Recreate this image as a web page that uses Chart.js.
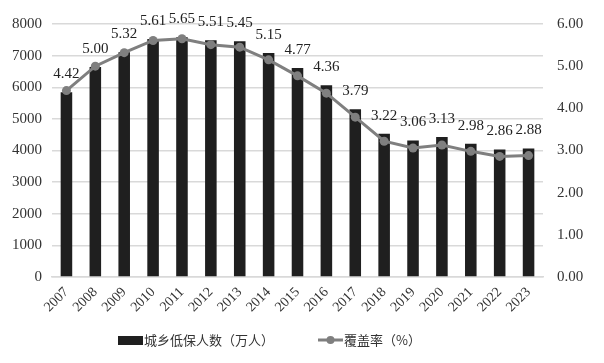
<!DOCTYPE html>
<html><head><meta charset="utf-8">
<script src="https://cdn.jsdelivr.net/npm/chart.js@4/dist/chart.umd.min.js"></script>
<style>html,body{margin:0;padding:0;background:#fff}#wrap{width:604px;height:363px}</style>
</head><body><div id="wrap"><canvas id="c" width="604" height="363"></canvas></div>
<script>
const years = ['2007','2008','2009','2010','2011','2012','2013','2014','2015','2016','2017','2018','2019','2020','2021','2022','2023'];
const recipients = [5838,6641,7106,7525,7583,7489,7452,7084,6605,6066,5306,4526,4316,4426,4212,4032,4063];
const coverage = [4.42,5.00,5.32,5.61,5.65,5.51,5.45,5.15,4.77,4.36,3.79,3.22,3.06,3.13,2.98,2.86,2.88];
const leftTicks = [0,1000,2000,3000,4000,5000,6000,7000,8000];
const rightTicks = [0,1,2,3,4,5,6];
const barLabel = '城乡低保人数（万人）';
const lineLabel = '覆盖率（%）';

const serif = "'Liberation Serif','DejaVu Serif',serif";
const cjk = "'Noto Sans CJK SC','Noto Sans',sans-serif";

const labelPlugin = {
  id:'vals',
  afterDatasetsDraw(chart){
    const ctx = chart.ctx;
    const meta = chart.getDatasetMeta(1);
    ctx.save();
    ctx.font = '15px ' + serif;
    ctx.fillStyle = '#222';
    ctx.textAlign = 'center';
    ctx.textBaseline = 'middle';
    meta.data.forEach((p,i)=>{
      ctx.fillText(coverage[i].toFixed(2), p.x, p.y - 18);
    });
    ctx.restore();
  }
};
const legendPlugin = {
  id:'leg',
  afterDraw(chart){
    const ctx = chart.ctx;
    ctx.save();
    const y = 340;
    ctx.fillStyle = '#1f1f1f';
    ctx.fillRect(118, y-4, 25, 9);
    ctx.font = '13px ' + cjk;
    ctx.fillStyle = '#333';
    ctx.textBaseline = 'middle';
    ctx.textAlign = 'left';
    ctx.fillText(barLabel, 144, y);
    ctx.strokeStyle = '#7f7f7f';
    ctx.lineWidth = 3;
    ctx.beginPath(); ctx.moveTo(318, y); ctx.lineTo(343, y); ctx.stroke();
    ctx.fillStyle = '#7f7f7f';
    ctx.beginPath(); ctx.arc(330.5, y, 4, 0, Math.PI*2); ctx.fill();
    ctx.fillStyle = '#333';
    ctx.fillText(lineLabel, 344, y);
    ctx.restore();
  }
};

new Chart(document.getElementById('c'), {
  data:{
    labels: years,
    datasets:[
      {type:'line', label:lineLabel, data:coverage, yAxisID:'y1', borderColor:'#7f7f7f', backgroundColor:'#7f7f7f',
       borderWidth:3, pointRadius:4.5, pointBackgroundColor:'#7f7f7f', pointBorderWidth:0, tension:0, order:0},
      {type:'bar', label:barLabel, data:recipients, yAxisID:'y', backgroundColor:'#1f1f1f',
       categoryPercentage:1, barPercentage:0.4, order:1}
    ]
  },
  plugins:[labelPlugin, legendPlugin],
  options:{
    responsive:false, animation:false,
    layout:{padding:{top:24,bottom:44,left:0,right:0}},
    plugins:{legend:{display:false}, tooltip:{enabled:false}},
    scales:{
      x:{
        grid:{display:false, drawTicks:false},
        border:{display:true, color:'#d9d9d9', width:1.5},
        ticks:{minRotation:45, maxRotation:45, font:{family:serif, size:14}, color:'#333', padding:7},
        afterFit(s){ s.height = 42; }
      },
      y:{
        position:'left', min:0, max:8000,
        afterBuildTicks(s){ s.ticks = leftTicks.map(v=>({value:v})); },
        grid:{color:'#d9d9d9', lineWidth:1.5, drawTicks:false},
        border:{display:false},
        ticks:{font:{family:serif, size:15}, color:'#333', padding:10, callback:v=>String(v)},
        afterFit(s){ s.width = 52; }
      },
      y1:{
        position:'right', min:0, max:6,
        afterBuildTicks(s){ s.ticks = rightTicks.map(v=>({value:v})); },
        grid:{display:false, drawTicks:false},
        border:{display:false},
        ticks:{font:{family:serif, size:15}, color:'#333', padding:14, callback:v=>Number(v).toFixed(2)},
        afterFit(s){ s.width = 61; }
      }
    }
  }
});
</script></body></html>
